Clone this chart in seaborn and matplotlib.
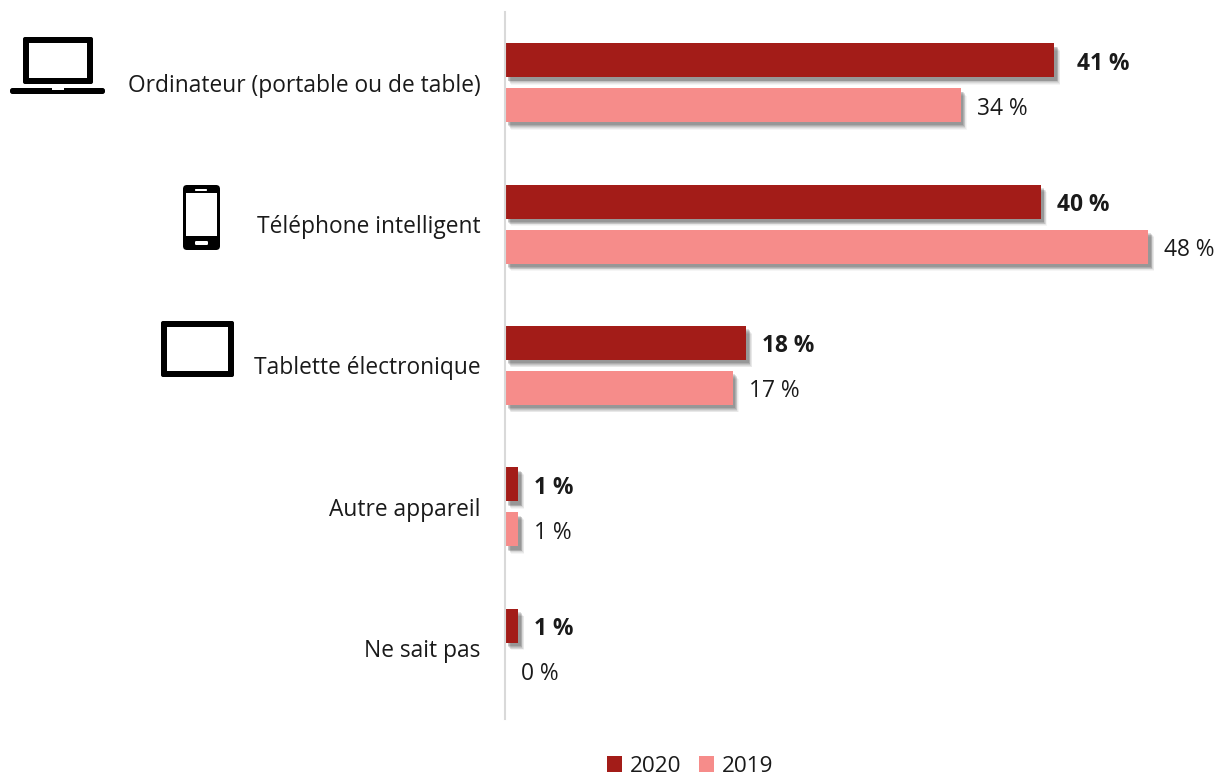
import pandas as pd
import seaborn as sns
import matplotlib
matplotlib.use('Agg')
import matplotlib.pyplot as plt
import matplotlib.patheffects as pe
from matplotlib.patches import FancyBboxPatch, Rectangle

#DATA
categories = ['Ordinateur (portable ou de table)', 'Téléphone intelligent', 'Tablette électronique', 'Autre appareil', 'Ne sait pas']
values_2020 = [41, 40, 18, 1, 1]
values_2019 = [34, 48, 17, 1, 0]
years = ['2020', '2019']

W, H = 1217, 777
DARK = '#A31C18'
LIGHT = '#F68C8A'
TEXT = '#1A1A1A'

df = pd.concat([
    pd.DataFrame({'cat': categories, 'pct': values_2020, 'year': years[0]}),
    pd.DataFrame({'cat': categories, 'pct': values_2019, 'year': years[1]}),
])

sns.set_theme(style='white')
plt.rcParams['font.family'] = ['Open Sans', 'DejaVu Sans']

fig = plt.figure(figsize=(W / 100, H / 100), dpi=100)
ax = fig.add_axes([505 / W, 1 - 719 / H, (W - 505) / W, 707 / H])

sns.barplot(data=df, y='cat', x='pct', hue='year', hue_order=years,
            palette=[DARK, LIGHT], orient='h', width=0.636, gap=0.245,
            saturation=1, linewidth=0, ax=ax)

ax.set_xlim(0, (W - 505) / 13.4)
ax.set_xlabel('')
ax.set_ylabel('')
ax.set_xticks([])
ax.tick_params(axis='y', length=0, pad=17.8, labelsize=16.4, labelcolor=TEXT)
sns.despine(ax=ax, bottom=True)
ax.spines['left'].set_color('#D9D9D9')
ax.spines['left'].set_linewidth(1.5)
ax.patch.set_alpha(0)

#SOFT SHADOW UNDER THE BARS
shadow = [pe.SimplePatchShadow(offset=(k * 0.8, -k), shadow_rgbFace='black', alpha=a, rho=1)
          for k, a in [(5.4, 0.04), (4.8, 0.05), (4.2, 0.07), (3.6, 0.09), (3.0, 0.11), (2.4, 0.12)]]
for cont, weight in zip(ax.containers, ['bold', 'normal']):
    for bar in cont:
        if bar.get_width() > 0:
            bar.set_path_effects(shadow + [pe.Normal()])
    labs = ax.bar_label(cont, fmt='%d %%', padding=11.5, fontsize=16.4, color=TEXT,
                        fontweight=weight)
    for lab in labs:
        lab.xyann = (11.5, -2.5)
    if weight == 'bold':
        labs[0].xyann = (16, -2.5)  #the 41 % label sits further out

#LEGEND
ax.legend(loc='center', bbox_to_anchor=(690 / W, 1 - 766 / H), bbox_transform=fig.transFigure,
          ncol=2, frameon=False, fontsize=16.2, handlelength=0.68, handleheight=0.72,
          handletextpad=0.33, columnspacing=0.8, labelcolor=TEXT, borderpad=0, borderaxespad=0)

#DEVICE ICONS, drawn in pixel coordinates on an overlay
ov = fig.add_axes([0, 0, 1, 1])
ov.set_xlim(0, W)
ov.set_ylim(H, 0)
ov.axis('off')
ov.patch.set_alpha(0)

def rbox(x0, y0, x1, y1, r, fc='black'):
    ov.add_patch(FancyBboxPatch((x0 + r, y0 + r), x1 - x0 - 2 * r, y1 - y0 - 2 * r,
                                boxstyle=f'round,pad={r}', fc=fc, ec='none'))

#laptop
rbox(23, 37, 93, 84, 2)
ov.add_patch(Rectangle((29, 43), 58, 35, fc='white', ec='none'))
rbox(10, 88, 105, 94, 2.5)
ov.add_patch(Rectangle((52, 88), 12, 2, fc='white', ec='none'))
#phone
rbox(183, 185, 220, 250, 4)
ov.add_patch(Rectangle((186, 193), 31, 43, fc='white', ec='none'))
rbox(195, 189, 207, 191, 0.8, fc='white')
rbox(195, 241, 208, 245, 1.2, fc='white')
#tablet
rbox(161, 321, 234, 377, 2)
ov.add_patch(Rectangle((167, 327), 61, 44, fc='white', ec='none'))

fig.savefig('out.png', dpi=100)
